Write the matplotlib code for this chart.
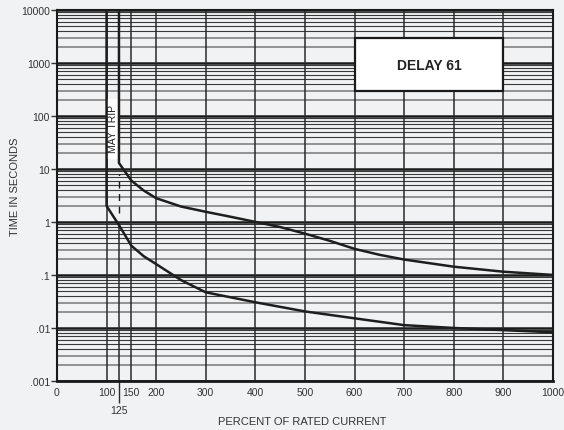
import matplotlib.pyplot as plt
from matplotlib.patches import Rectangle

plt.rcParams['font.family'] = ['Liberation Sans', 'DejaVu Sans']

# values
x_ticks = [0, 100, 150, 200, 300, 400, 500, 600, 700, 800, 900, 1000]
y_ticks = [0.001, 0.01, 0.1, 1, 10, 100, 1000, 10000]
y_labels = ['.001', '.01', '.1', '1', '10', '100', '1000', '10000']

# upper curve (max clearing time)
upper_x = [125, 125, 150, 175, 200, 250, 300, 350, 400, 450, 500, 550, 600, 650, 700, 800, 900, 1000]
upper_y = [10000, 12.9, 6.0, 3.9, 2.8, 1.95, 1.55, 1.25, 1.0, 0.8, 0.6, 0.44, 0.31, 0.24, 0.195, 0.143, 0.115, 0.10]

# lower curve (min clearing time)
lower_x = [100, 100, 125, 150, 175, 200, 250, 300, 400, 500, 600, 700, 800, 900, 1000]
lower_y = [10000, 2.0, 0.87, 0.355, 0.225, 0.16, 0.08, 0.047, 0.0305, 0.0205, 0.0152, 0.0113, 0.0100, 0.0091, 0.0083]

bg = '#f1f2f4'
fig = plt.figure(figsize=(5.64, 4.31), dpi=100, facecolor=bg)
ax = fig.add_axes([0.101, 0.1137, 0.8795, 0.8613], facecolor=bg)
ax.set_yscale('log')
ax.set_xlim(0, 1000)
ax.set_ylim(0.001, 10000)

# horizontal grid: decades black, minors gray/dark
for d in y_ticks:
    if d < 10000:
        for m in range(2, 10):
            c = '#8a8a8a' if m in (2, 3) else '#3a3a3a'
            lw = 1.3 if m in (2, 3) else 0.8
            ax.axhline(d * m, color=c, lw=lw, zorder=1)
    ax.axhline(d, color='#1a1a1a', lw=1.8, zorder=2)

# vertical grid
for x in x_ticks[1:]:
    ax.axvline(x, color='#2a2a2a', lw=1.1, zorder=2)
ax.plot([125, 125], [0.001, 0.9], color='#2a2a2a', lw=1.1, zorder=2)
ax.plot([125, 125], [1.5, 8], color='#1a1a1a', lw=1.0, ls=(0, (5, 4)), zorder=3)

# curves
ax.plot(upper_x, upper_y, color='#1e1e1e', lw=1.8, zorder=4, solid_joinstyle='round')
ax.plot(lower_x, lower_y, color='#1e1e1e', lw=1.8, zorder=4, solid_joinstyle='round')

# MAY TRIP label
ax.add_patch(Rectangle((101.5, 15.4), 23, 208 - 15.4, facecolor='white', edgecolor='none', zorder=3))
ax.text(112.5, 60, 'MAY TRIP', rotation=90, ha='center', va='center', fontsize=7.5,
        color='#222222', zorder=5)

# DELAY 61 box
ax.add_patch(Rectangle((600, 300), 300, 2700, facecolor='white', edgecolor='#1a1a1a', lw=1.6, zorder=5))
ax.text(750, 920, 'DELAY 61', ha='center', va='center', fontsize=10, fontweight='bold',
        color='#222222', zorder=6)

for s in ax.spines.values():
    s.set_color('#1a1a1a')
    s.set_linewidth(1.5)
ax.spines['bottom'].set_linewidth(2)

ax.set_xticks(x_ticks)
ax.set_xticklabels([str(v) for v in x_ticks])
ax.set_xticks([125], minor=True)
ax.set_xticklabels(['125'], minor=True)
ax.tick_params(axis='x', which='major', length=0, pad=4, labelsize=7.5, labelcolor='#333333')
ax.tick_params(axis='x', which='minor', length=16, width=1, color='#2a2a2a', pad=1,
               labelsize=7.5, labelcolor='#333333')

ax.set_yticks(y_ticks)
ax.set_yticklabels(y_labels)
ax.yaxis.set_minor_locator(plt.NullLocator())
ax.tick_params(axis='y', which='major', length=4, width=1, color='#333333', pad=1,
               labelsize=7.5, labelcolor='#333333')

# axis titles placed where the reference has them
fig.text(302 / 564, 1 - 422 / 431, 'PERCENT OF RATED CURRENT', ha='center', va='center',
         fontsize=8, color='#333333')
fig.text(15 / 564, 1 - 187 / 431, 'TIME IN SECONDS', rotation=90, ha='center', va='center',
         fontsize=8, color='#333333')

fig.savefig('out.png', dpi=100, facecolor=bg)
